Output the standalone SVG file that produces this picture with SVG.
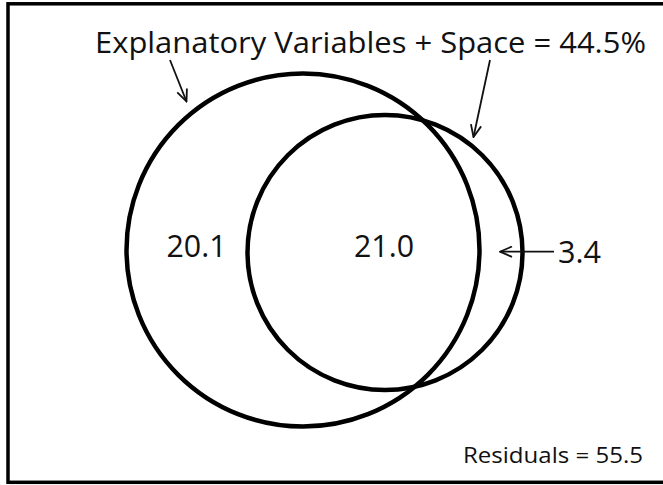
<svg xmlns="http://www.w3.org/2000/svg" width="663" height="485" viewBox="0 0 663 485">
<defs>
<style>
.circ{fill:none;stroke:#000;stroke-width:4.5}
.lbl{font-family:"Open Sans","Liberation Sans",sans-serif;fill:#111}
.conn{stroke:#111;stroke-width:1.8;fill:none;marker-end:url(#ah)}
</style>
<marker id="ah" viewBox="0 0 14 12" refX="13" refY="6" markerWidth="14" markerHeight="12" markerUnits="userSpaceOnUse" orient="auto">
<path d="M1,0.8 L13,6 L1,11.2" fill="none" stroke="#111" stroke-width="1.8"/>
</marker>
</defs>
<rect x="0" y="0" width="663" height="485" fill="#fff"/>
<rect x="8" y="3.8" width="670" height="478.5" fill="none" stroke="#000" stroke-width="3.5"/>
<g id="big-circle">
<circle class="circ" cx="303" cy="250" r="176.5"/>
<text class="lbl" x="196.5" y="256.7" font-size="31" text-anchor="middle" textLength="60" lengthAdjust="spacingAndGlyphs">20.1</text>
</g>
<g id="small-circle">
<circle class="circ" cx="385" cy="252.5" r="137.5"/>
<text class="lbl" x="384" y="256.7" font-size="31" text-anchor="middle" textLength="60" lengthAdjust="spacingAndGlyphs">21.0</text>
</g>
<g id="title">
<text class="lbl" x="95" y="53.3" font-size="29" textLength="551" lengthAdjust="spacingAndGlyphs">Explanatory Variables + Space = 44.5%</text>
</g>
<g id="label-3-4">
<text class="lbl" x="558" y="262.5" font-size="31" textLength="43" lengthAdjust="spacingAndGlyphs">3.4</text>
</g>
<g id="residuals">
<text class="lbl" x="463" y="462.7" font-size="22.5" textLength="180" lengthAdjust="spacingAndGlyphs">Residuals = 55.5</text>
</g>
<g id="connectors">
<line class="conn" x1="170" y1="60" x2="186.5" y2="101.5"/>
<line class="conn" x1="490" y1="60" x2="473.5" y2="137"/>
<line class="conn" x1="554" y1="251.7" x2="500" y2="251.7"/>
</g>
</svg>
